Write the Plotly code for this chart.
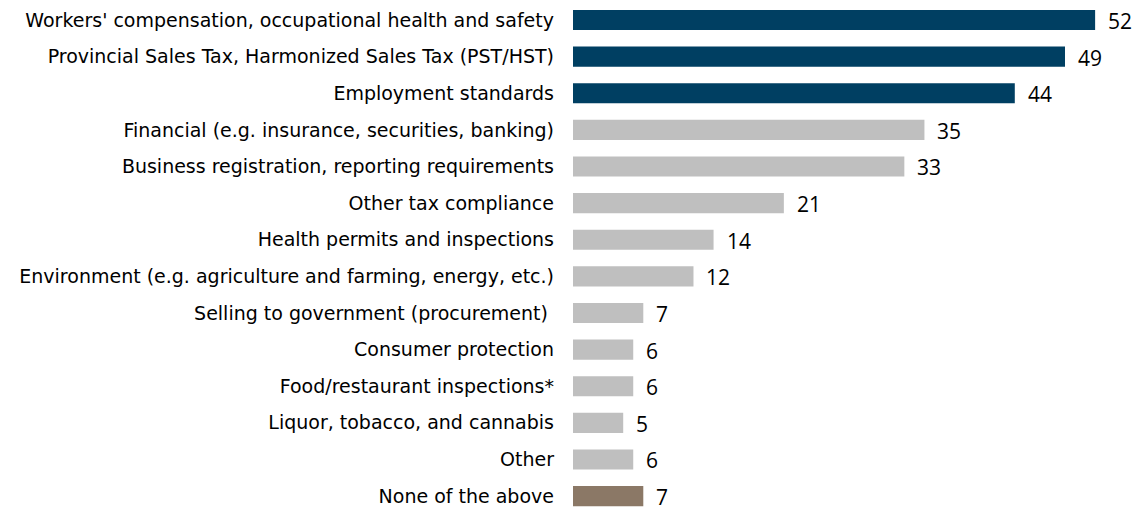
import plotly.graph_objects as go

categories = [
    "Workers' compensation, occupational health and safety",
    "Provincial Sales Tax, Harmonized Sales Tax (PST/HST)",
    "Employment standards",
    "Financial (e.g. insurance, securities, banking)",
    "Business registration, reporting requirements",
    "Other tax compliance",
    "Health permits and inspections",
    "Environment (e.g. agriculture and farming, energy, etc.)",
    "Selling to government (procurement) ",
    "Consumer protection",
    "Food/restaurant inspections*",
    "Liquor, tobacco, and cannabis",
    "Other",
    "None of the above",
]
values = [52, 49, 44, 35, 33, 21, 14, 12, 7, 6, 6, 5, 6, 7]
groups = ["top"] * 3 + ["rest"] * 10 + ["none"]

palette = {"top": "#003F62", "rest": "#BFBFBF", "none": "#8B7866"}
colors = [palette[g] for g in groups]

fig = go.Figure(
    go.Bar(
        x=values,
        y=categories,
        orientation="h",
        marker=dict(color=colors, line=dict(width=0)),
        hoverinfo="skip",
    )
)

for cat, val in zip(categories, values):
    fig.add_annotation(
        x=val, y=cat, text=str(val), showarrow=False,
        xanchor="left", xshift=11, yshift=-1,
        font=dict(family="Open Sans", size=21, color="#000000"),
    )

fig.update_layout(
    width=1140, height=510,
    margin=dict(l=573, r=0, t=0, b=0),
    paper_bgcolor="white", plot_bgcolor="white",
    bargap=0.45,
    showlegend=False,
    xaxis=dict(range=[0, 56.47], visible=False),
    yaxis=dict(
        type="category",
        range=[13.38, -0.546],
        showgrid=False, zeroline=False, showline=False,
        ticks="", ticklabelstandoff=18,
        tickfont=dict(family="DejaVu Sans", size=19, color="#000000"),
    ),
)

fig.write_html("out.html")
